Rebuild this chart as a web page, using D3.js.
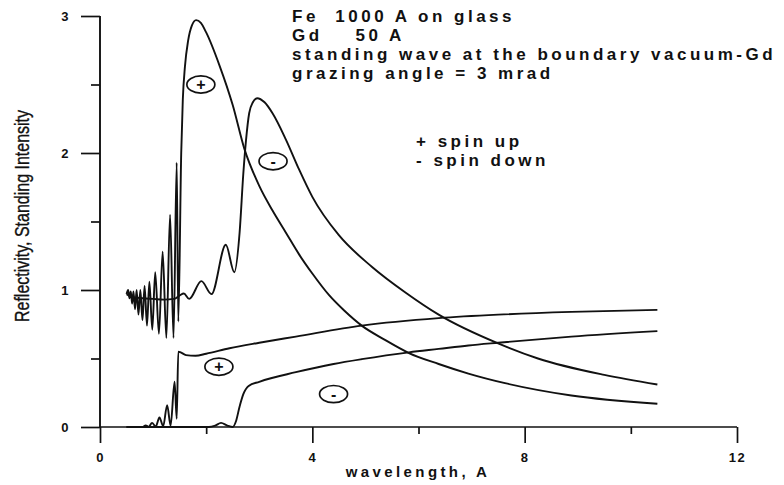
<!DOCTYPE html>
<html>
<head>
<meta charset="utf-8">
<script src="https://cdn.jsdelivr.net/npm/d3@7"></script>
<style>
  html, body { margin: 0; padding: 0; background: #fff; }
  svg { display: block; }
  text { font-family: "Liberation Sans", Arial, Helvetica, sans-serif; fill: #111; }
</style>
</head>
<body>
<svg id="chart" width="784" height="485"></svg>
<script>
// Reflectivity (spin up / spin down) of Fe on glass with a Gd cap layer,
// and the standing-wave intensity at the vacuum–Gd boundary, vs wavelength.

// [wavelength (Å), value]
const reflectivityUp = [
  [0.50, 0.97], [0.53, 1.00], [0.555, 0.94], [0.58, 0.99], [0.605, 0.90],
  [0.63, 0.99], [0.66, 0.86], [0.69, 1.00], [0.725, 0.82], [0.76, 1.00],
  [0.80, 0.78], [0.84, 1.03], [0.885, 0.74], [0.93, 1.06], [0.985, 0.71],
  [1.04, 1.13], [1.11, 0.68], [1.18, 1.28], [1.25, 0.65], [1.32, 1.55],
  [1.385, 0.65], [1.445, 1.93], [1.475, 0.77], [1.53, 2.00], [1.56, 2.39],
  [1.60, 2.63], [1.66, 2.82], [1.73, 2.93], [1.81, 2.97], [1.90, 2.95],
  [2.00, 2.88], [2.25, 2.64], [2.50, 2.35], [2.72, 2.03], [3.00, 1.76],
  [3.25, 1.58], [3.50, 1.42], [3.75, 1.26], [4.00, 1.12], [4.32, 0.96],
  [4.60, 0.85], [4.93, 0.74], [5.35, 0.64], [5.82, 0.54], [6.38, 0.46],
  [6.94, 0.39], [7.63, 0.32], [8.88, 0.23], [10.5, 0.17]
];

const reflectivityDown = [
  [0.50, 0.97], [0.60, 0.95], [0.80, 0.94], [1.00, 0.935], [1.20, 0.93],
  [1.40, 0.935], [1.50, 0.96], [1.58, 0.975], [1.68, 0.935], [1.91, 1.065],
  [2.10, 0.97], [2.37, 1.33], [2.53, 1.13], [2.63, 1.42], [2.70, 1.85],
  [2.75, 2.09], [2.81, 2.29], [2.88, 2.37], [2.96, 2.40], [3.10, 2.37],
  [3.25, 2.29], [3.50, 2.10], [3.75, 1.88], [4.00, 1.68], [4.50, 1.40],
  [5.12, 1.17], [5.76, 0.98], [6.38, 0.82], [7.50, 0.61], [8.25, 0.50],
  [9.50, 0.38], [10.5, 0.31]
];

const standingUp = [
  [0.50, 0.0], [0.80, 0.0], [0.86, 0.012], [0.92, 0.002], [0.98, 0.03],
  [1.05, 0.004], [1.12, 0.07], [1.19, 0.005], [1.265, 0.16], [1.33, 0.01],
  [1.405, 0.33], [1.445, 0.06], [1.475, 0.55], [1.52, 0.545], [1.62, 0.525],
  [1.80, 0.52], [2.00, 0.535], [2.44, 0.575], [3.00, 0.615], [3.69, 0.66],
  [4.93, 0.74], [6.38, 0.795], [7.50, 0.82], [8.88, 0.84], [10.5, 0.855]
];

const standingDown = [
  [0.50, 0.0], [2.05, 0.0], [2.17, 0.01], [2.28, 0.03], [2.40, 0.01],
  [2.50, 0.0], [2.56, 0.04], [2.63, 0.15], [2.70, 0.24], [2.80, 0.30],
  [3.00, 0.33], [3.69, 0.40], [4.40, 0.46], [4.93, 0.495], [5.82, 0.545],
  [6.38, 0.57], [6.94, 0.595], [7.50, 0.615], [8.88, 0.66], [10.5, 0.70]
];

// circled spin markers placed in data coordinates: [wavelength, value, sign]
const markers = [
  [1.90, 2.50, "+"], [3.26, 1.94, "-"], [2.24, 0.44, "+"], [4.40, 0.24, "-"]
];

const xMajorTicks = [0, 4, 8, 12];
const xMinorTicks = [2, 6, 10];
const yMajorTicks = [0, 1, 2, 3];
const yMinorTicks = [0.5, 1.5, 2.5];

const titleLines = [
  "Fe  1000 A on glass",
  "Gd    50 A",
  "standing wave at the boundary vacuum-Gd",
  "grazing angle = 3 mrad"
];
const legendLines = ["+ spin up", "- spin down"];
const xTitle = "wavelength, A";
const yTitle = "Reflectivity, Standing Intensity";

const svg = d3.select("#chart");

const x = d3.scaleLinear().domain([0, 12]).range([100, 737]);
const y = d3.scaleLinear().domain([0, 3]).range([427, 16]);

// axes
const axisStroke = "#111";
const gx = svg.append("g").attr("transform", `translate(0,${y(0)})`);
gx.call(d3.axisBottom(x).tickValues(xMinorTicks).tickSize(7).tickFormat(""));
gx.select(".domain").remove();
const gx2 = svg.append("g").attr("transform", `translate(0,${y(0)})`);
gx2.call(d3.axisBottom(x).tickValues(xMajorTicks).tickSize(16).tickPadding(10)
  .tickFormat(d3.format("d")));
gx2.select(".domain").remove();

const gy = svg.append("g").attr("transform", `translate(${x(0)},0)`);
gy.call(d3.axisLeft(y).tickValues(yMinorTicks).tickSize(9).tickFormat(""));
gy.select(".domain").remove();
const gy2 = svg.append("g").attr("transform", `translate(${x(0)},0)`);
gy2.call(d3.axisLeft(y).tickValues(yMajorTicks).tickSize(19).tickPadding(11)
  .tickFormat(d3.format("d")));
gy2.select(".domain").remove();

svg.selectAll(".tick line").attr("stroke", axisStroke).attr("stroke-width", 1.7);
svg.selectAll(".tick text")
  .attr("fill", "#111")
  .style("font-family", '"Liberation Sans", Arial, sans-serif')
  .style("font-size", "13px")
  .style("font-weight", "bold")
  .style("letter-spacing", "1.5px");

// axis lines
svg.append("line")
  .attr("x1", x(0)).attr("x2", x(0)).attr("y1", y(3)).attr("y2", y(0))
  .attr("stroke", axisStroke).attr("stroke-width", 1.9);
svg.append("line")
  .attr("x1", x(0)).attr("x2", x(12)).attr("y1", y(0)).attr("y2", y(0))
  .attr("stroke", axisStroke).attr("stroke-width", 1.7);

// curves
const line = d3.line()
  .x(d => x(d[0]))
  .y(d => y(d[1]))
  .curve(d3.curveMonotoneX);

[reflectivityUp, reflectivityDown, standingUp, standingDown].forEach(series => {
  svg.append("path")
    .datum(series)
    .attr("d", line)
    .attr("fill", "none")
    .attr("stroke", "#111")
    .attr("stroke-width", 1.9)
    .attr("stroke-linejoin", "round");
});

// circled signs
const mk = svg.append("g").selectAll("g").data(markers).join("g")
  .attr("transform", d => `translate(${x(d[0])},${y(d[1])})`);
mk.append("ellipse")
  .attr("rx", 14).attr("ry", 8.6)
  .attr("fill", "none").attr("stroke", "#111").attr("stroke-width", 1.7);
mk.append("text")
  .attr("text-anchor", "middle")
  .attr("dy", "0.36em")
  .style("font-size", "16px")
  .style("font-weight", "bold")
  .text(d => d[2]);

// title block
svg.append("g").selectAll("text").data(titleLines).join("text")
  .attr("x", 292)
  .attr("y", (d, i) => 22 + i * 19)
  .style("font-size", "17px")
  .style("font-weight", "bold")
  .style("letter-spacing", "3.5px")
  .style("white-space", "pre")
  .text(d => d);

// legend
svg.append("g").selectAll("text").data(legendLines).join("text")
  .attr("x", 416)
  .attr("y", (d, i) => 147 + i * 19)
  .style("font-size", "17px")
  .style("font-weight", "bold")
  .style("letter-spacing", "3.5px")
  .text(d => d);

// axis titles
svg.append("text")
  .attr("x", 418).attr("y", 477)
  .attr("text-anchor", "middle")
  .style("font-size", "15px")
  .style("font-weight", "bold")
  .style("letter-spacing", "3.4px")
  .text(xTitle);

svg.append("text")
  .attr("transform", "translate(29,216) rotate(-90)")
  .attr("text-anchor", "middle")
  .attr("textLength", 212)
  .attr("lengthAdjust", "spacingAndGlyphs")
  .style("font-size", "20px")
  .style("stroke", "#111")
  .style("stroke-width", "0.35px")
  .text(yTitle);
</script>
</body>
</html>
